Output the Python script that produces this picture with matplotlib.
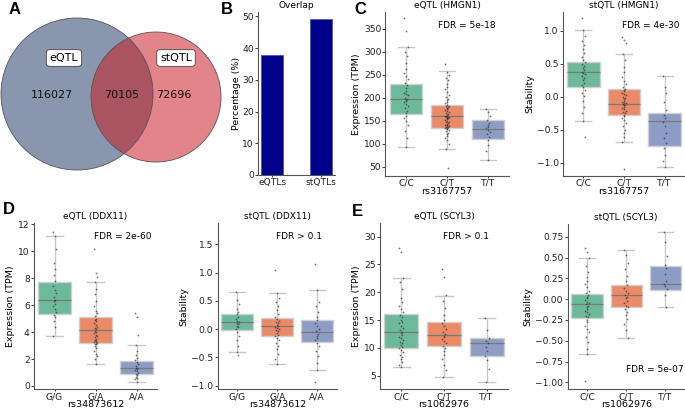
import matplotlib
matplotlib.use("Agg")
import matplotlib.pyplot as plt
from matplotlib.patches import Circle

W, H = 685, 409

# ---------- data ----------
venn_counts = [116027, 70105, 72696]   # eQTL only, shared, stQTL only
venn_names = ["eQTL", "stQTL"]

overlap_cats = ["eQTLs", "stQTLs"]
overlap_pct = [37.7, 49.1]

genotypes_c = ["C/C", "C/T", "T/T"]
genotypes_d = ["G/G", "G/A", "A/A"]

# box statistics: med, q1, q3, whislo, whishi
hmgn1_e_box = [[197, 164, 229, 92, 311], [160, 135, 184, 88, 258], [131, 110, 152, 65, 176]]
hmgn1_s_box = [[0.37, 0.14, 0.53, -0.37, 1.01], [-0.11, -0.28, 0.12, -0.68, 0.65], [-0.37, -0.74, -0.24, -1.06, 0.31]]
ddx11_e_box = [[6.39, 5.32, 7.75, 3.74, 11.14], [4.13, 3.22, 5.10, 1.66, 7.75], [1.31, 0.92, 1.86, 0.32, 3.04]]
ddx11_s_box = [[0.13, -0.02, 0.26, -0.40, 0.66], [0.05, -0.13, 0.20, -0.62, 0.63], [-0.06, -0.22, 0.16, -0.72, 0.69]]
scyl3_e_box = [[12.8, 10.0, 16.1, 6.5, 22.6], [12.3, 10.4, 14.6, 4.8, 19.4], [10.8, 8.5, 11.7, 3.9, 15.4]]
scyl3_s_box = [[-0.06, -0.23, 0.06, -0.66, 0.49], [0.05, -0.10, 0.17, -0.47, 0.59], [0.18, 0.11, 0.40, -0.09, 0.81]]

# individual samples
hmgn1_e_pts = [
    [373, 346, 311, 300, 290, 275, 262, 255, 248, 240, 232, 228, 222, 215, 210, 208, 205, 200, 198,
     196, 193, 190, 186, 182, 178, 172, 166, 160, 155, 150, 140, 128, 112, 92],
    [274, 257, 250, 243, 238, 230, 224, 218, 212, 206, 202, 198, 194, 191, 188, 185, 183, 181, 179,
     177, 175, 173, 171, 169, 167, 165, 163, 161, 160, 159, 158, 157, 156, 155, 153, 152, 150, 148,
     147, 145, 143, 141, 140, 139, 138, 137, 136, 135, 134, 133, 131, 129, 127, 124, 121, 117, 113,
     108, 100, 88, 46],
    [175, 168, 160, 152, 146, 141, 137, 133, 130, 126, 120, 114, 108, 98, 84, 65],
]
hmgn1_s_pts = [
    [1.19, 1.01, 0.92, 0.85, 0.78, 0.72, 0.66, 0.60, 0.56, 0.52, 0.49, 0.46, 0.43, 0.40, 0.38, 0.36,
     0.34, 0.31, 0.28, 0.25, 0.21, 0.17, 0.14, 0.10, 0.05, 0.01, -0.06, -0.15, -0.25, -0.37, -0.61],
    [0.91, 0.86, 0.81, 0.64, 0.55, 0.45, 0.38, 0.30, 0.24, 0.19, 0.15, 0.12, 0.10, 0.08, 0.06, 0.04,
     0.02, 0.0, -0.02, -0.04, -0.06, -0.08, -0.09, -0.10, -0.11, -0.12, -0.13, -0.15, -0.17, -0.19,
     -0.21, -0.23, -0.25, -0.27, -0.29, -0.32, -0.36, -0.40, -0.45, -0.50, -0.55, -0.61, -0.68, -1.09],
    [0.31, 0.15, 0.05, -0.08, -0.20, -0.27, -0.33, -0.38, -0.45, -0.55, -0.62, -0.70, -0.78, -0.88,
     -0.97, -1.06],
]
ddx11_e_pts = [
    [11.46, 11.14, 10.2, 9.1, 8.7, 8.2, 7.8, 7.4, 7.1, 6.9, 6.6, 6.4, 6.3, 6.1, 5.9, 5.7, 5.5, 5.3,
     5.1, 4.8, 4.4, 3.74],
    [10.15, 8.4, 8.1, 7.75, 7.2, 6.8, 6.3, 5.9, 5.6, 5.4, 5.2, 5.0, 4.9, 4.8, 4.7, 4.5, 4.4, 4.3,
     4.2, 4.1, 4.0, 3.9, 3.8, 3.7, 3.6, 3.5, 3.4, 3.35, 3.3, 3.25, 3.2, 3.15, 3.1, 3.0, 2.8, 2.6,
     2.4, 2.2, 2.0, 1.66],
    [5.4, 5.15, 3.79, 3.04, 2.6, 2.3, 2.1, 1.9, 1.75, 1.6, 1.45, 1.35, 1.3, 1.25, 1.2, 1.1, 1.0,
     0.9, 0.8, 0.7, 0.6, 0.5, 0.32],
]
ddx11_s_pts = [
    [0.66, 0.52, 0.44, 0.36, 0.30, 0.26, 0.22, 0.18, 0.15, 0.13, 0.11, 0.09, 0.06, 0.03, 0.0, -0.05,
     -0.12, -0.20, -0.30, -0.40, -0.46],
    [1.05, 0.63, 0.55, 0.48, 0.40, 0.33, 0.27, 0.22, 0.18, 0.15, 0.12, 0.10, 0.08, 0.06, 0.04, 0.02,
     0.0, -0.02, -0.04, -0.07, -0.10, -0.13, -0.16, -0.20, -0.25, -0.30, -0.36, -0.44, -0.52, -0.62],
    [1.15, 0.69, 0.48, 0.40, 0.30, 0.22, 0.16, 0.10, 0.05, 0.0, -0.04, -0.08, -0.12, -0.16, -0.20,
     -0.24, -0.30, -0.38, -0.48, -0.60, -0.72, -0.93],
]
scyl3_e_pts = [
    [27.9, 27.3, 22.6, 21.8, 20.5, 19.0, 18.2, 17.6, 17.0, 16.5, 16.0, 15.5, 15.0, 14.7, 14.4, 14.0,
     13.6, 13.2, 12.9, 12.6, 12.3, 12.0, 11.7, 11.4, 11.1, 10.8, 10.5, 10.2, 9.9, 9.6, 9.2, 8.8,
     8.4, 8.0, 7.5, 7.0, 6.5],
    [24.1, 22.7, 19.45, 18.5, 17.2, 16.0, 15.0, 14.5, 14.0, 13.4, 12.9, 12.5, 12.2, 11.9, 11.6, 11.2,
     10.8, 10.4, 10.0, 9.5, 8.8, 8.0, 7.0, 6.0, 4.82],
    [15.4, 13.2, 11.7, 11.3, 10.8, 10.2, 9.5, 8.5, 7.8, 6.2, 3.86],
]
scyl3_s_pts = [
    [0.61, 0.57, 0.49, 0.40, 0.33, 0.27, 0.22, 0.18, 0.14, 0.10, 0.07, 0.05, 0.03, 0.01, -0.01,
     -0.03, -0.05, -0.06, -0.08, -0.10, -0.12, -0.14, -0.16, -0.18, -0.20, -0.22, -0.25, -0.28,
     -0.32, -0.36, -0.40, -0.45, -0.52, -0.60, -0.66, -0.99],
    [0.59, 0.53, 0.44, 0.36, 0.28, 0.22, 0.17, 0.13, 0.10, 0.07, 0.05, 0.03, 0.01, -0.02, -0.05,
     -0.08, -0.10, -0.12, -0.15, -0.19, -0.24, -0.30, -0.37, -0.47],
    [0.81, 0.69, 0.52, 0.41, 0.38, 0.30, 0.22, 0.18, 0.16, 0.12, 0.05, -0.09],
]

box_colors = ["#6cba9b", "#ea8a66", "#8c9cc5"]
jitter = [-0.045, 0.0, 0.045, -0.022, 0.022, -0.01, 0.01]

plt.rcParams["font.family"] = "DejaVu Sans"
fig = plt.figure(figsize=(W / 100, H / 100), dpi=100)


def px_axes(x0, y0, x1, y1):
    # pixel box (left, top, right, bottom) -> figure axes
    return fig.add_axes([x0 / W, 1 - y1 / H, (x1 - x0) / W, (y1 - y0) / H])


def style(ax, h_px):
    for s in ["top", "right"]:
        ax.spines[s].set_visible(False)
    for s in ["left", "bottom"]:
        ax.spines[s].set_color("#555555")
        ax.spines[s].set_linewidth(0.8)
    ax.tick_params(labelsize=6.6, length=2, width=0.6, pad=1, colors="#222222")
    ax.tick_params(axis="x", length=1.5, pad=0.5)
    ax.xaxis.set_label_coords(0.5, -15.5 / h_px)
    ax.xaxis.label.set_va("center")


def qtl_panel(ax, h_px, box, pts, cats, title, ylabel, xlabel, ylim, yticks, fdr, fdr_pos):
    stats = []
    for b in box:
        stats.append(dict(med=b[0], q1=b[1], q3=b[2], whislo=b[3], whishi=b[4], fliers=[]))
    bp = ax.bxp(stats, positions=range(len(cats)), widths=0.8, patch_artist=True,
                showfliers=False,
                boxprops=dict(edgecolor="#d0d0d0", linewidth=1.0),
                whiskerprops=dict(color="#c8c8c8", linewidth=1.0),
                capprops=dict(color="#c8c8c8", linewidth=1.0),
                medianprops=dict(color="#7a7a7a", linewidth=0.9))
    for patch, c in zip(bp["boxes"], box_colors):
        patch.set_facecolor(c)
    for i, vals in enumerate(pts):
        xs = [i + jitter[k % len(jitter)] for k in range(len(vals))]
        ax.scatter(xs, vals, s=1.6, color="#333333", alpha=0.7, linewidths=0, zorder=3)
    ax.set_xlim(-0.5, len(cats) - 0.5)
    ax.set_ylim(*ylim)
    ax.set_yticks(yticks)
    ax.set_xticks(range(len(cats)))
    ax.set_xticklabels(cats)
    ax.set_title(title, fontsize=6.5, pad=3)
    ax.set_ylabel(ylabel, fontsize=6.8, labelpad=2)
    ax.set_xlabel(xlabel, fontsize=6.8)
    ax.text(fdr_pos[0], fdr_pos[1], fdr, transform=ax.transAxes, fontsize=6.5,
            ha="center", va="center")
    style(ax, h_px)


def letter(x, y, s):
    fig.text(x / W, 1 - y / H, s, fontsize=12, fontweight="bold", va="center", ha="left",
             family="Liberation Sans")


# ---------- A: Venn ----------
axA = px_axes(0, 0, 230, 200)
axA.set_xlim(0, 230)
axA.set_ylim(200, 0)
axA.axis("off")
axA.add_patch(Circle((77, 94), 76, facecolor="#8a96ae", edgecolor="none"))
axA.add_patch(Circle((156, 97), 65, facecolor="#e3838a", edgecolor="none"))
c_mid = Circle((156, 97), 65, facecolor="#aa5462", edgecolor="none")
axA.add_patch(c_mid)
c_mid.set_clip_path(Circle((77, 94), 76, transform=axA.transData))
axA.add_patch(Circle((77, 94), 76, facecolor="none", edgecolor="#555555", linewidth=0.6))
axA.add_patch(Circle((156, 97), 65, facecolor="none", edgecolor="#555555", linewidth=0.6))
for name, x in zip(venn_names, [64, 176]):
    axA.text(x, 58, name, ha="center", va="center", fontsize=8,
             bbox=dict(boxstyle="round,pad=0.3,rounding_size=0.3", fc="white", ec="#444444", lw=0.6))
for n, x in zip(venn_counts, [52, 122, 174]):
    axA.text(x, 95, str(n), ha="center", va="center", fontsize=8, color="#111111")
letter(9, 9, "A")

# ---------- B: overlap bars ----------
axB = px_axes(258, 12, 335, 175)
axB.bar(range(len(overlap_cats)), overlap_pct, width=0.46, color="#00008b", edgecolor="#3a3aa0", linewidth=0.4)
axB.set_xlim(-0.29, 1.29)
axB.set_ylim(0, 51.4)
axB.set_yticks([0, 10, 20, 30, 40, 50])
axB.set_xticks(range(len(overlap_cats)))
axB.set_xticklabels(overlap_cats)
axB.set_title("Overlap", fontsize=6.5, pad=3)
axB.set_ylabel("Percentage (%)", fontsize=6.8, labelpad=1)
style(axB, 163)
letter(221, 9, "B")

# ---------- C ----------
axC1 = px_axes(385.5, 12, 508.5, 175.7)
qtl_panel(axC1, 163.7, hmgn1_e_box, hmgn1_e_pts, genotypes_c, "eQTL (HMGN1)", "Expression (TPM)", "rs3167757",
          (30, 387), [50, 100, 150, 200, 250, 300, 350], "FDR = 5e-18", (0.66, 0.92))
axC2 = px_axes(563, 12, 685, 175.7)
qtl_panel(axC2, 163.7, hmgn1_s_box, hmgn1_s_pts, genotypes_c, "stQTL (HMGN1)", "Stability", "rs3167757",
          (-1.197, 1.283), [-1.0, -0.5, 0.0, 0.5, 1.0], "FDR = 4e-30", (0.72, 0.92))
letter(354, 9, "C")

# ---------- D ----------
axD1 = px_axes(34, 223.3, 157, 389.3)
qtl_panel(axD1, 166, ddx11_e_box, ddx11_e_pts, genotypes_d, "eQTL (DDX11)", "Expression (TPM)", "rs34873612",
          (-0.245, 12.07), [0, 2, 4, 6, 8, 10, 12], "FDR = 2e-60", (0.72, 0.92))
axD2 = px_axes(217.5, 223.3, 337, 389.3)
qtl_panel(axD2, 166, ddx11_s_box, ddx11_s_pts, genotypes_d, "stQTL (DDX11)", "Stability", "rs34873612",
          (-1.064, 1.87), [-1.0, -0.5, 0.0, 0.5, 1.0, 1.5], "FDR > 0.1", (0.68, 0.92))
letter(3, 209, "D")

# ---------- E ----------
axE1 = px_axes(380, 223.3, 508, 389.3)
qtl_panel(axE1, 166, scyl3_e_box, scyl3_e_pts, genotypes_c, "eQTL (SCYL3)", "Expression (TPM)", "rs1062976",
          (2.55, 32.4), [5, 10, 15, 20, 25, 30], "FDR > 0.1", (0.67, 0.92))
axE2 = px_axes(567.5, 224, 685, 389.3)
qtl_panel(axE2, 165.3, scyl3_s_box, scyl3_s_pts, genotypes_c, "stQTL (SCYL3)", "Stability", "rs1062976",
          (-1.084, 0.903), [-1.00, -0.75, -0.50, -0.25, 0.00, 0.25, 0.50, 0.75], "FDR = 5e-07", (0.74, 0.12))
axE2.set_yticklabels(["\u22121.00", "\u22120.75", "\u22120.50", "\u22120.25", "0.00", "0.25", "0.50", "0.75"])
letter(352, 211, "E")

fig.savefig("out.png", dpi=100)
